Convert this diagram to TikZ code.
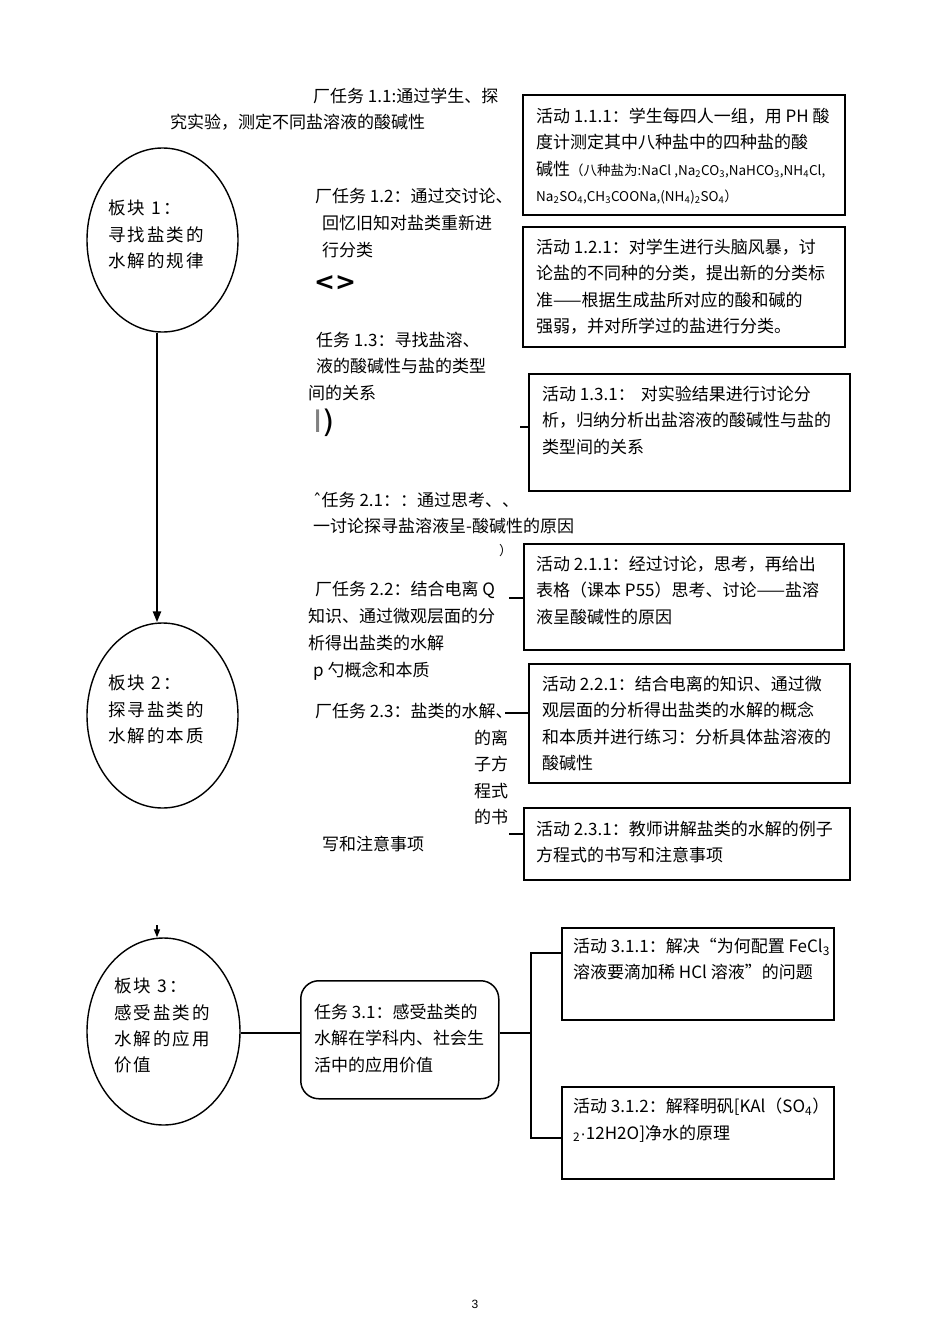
\documentclass[tikz,border=0pt]{standalone}
\usepackage{fontspec}
\setmainfont{Noto Sans CJK SC}
\newfontfamily\cjkwide[LetterSpace=12]{Noto Sans CJK SC}
\newfontfamily\dvsans{DejaVu Sans}
\newfontfamily\libsans{Liberation Sans}
\usetikzlibrary{shapes.geometric,arrows.meta,calc}
\newcommand\chsub[1]{\textsubscript{#1}}
\newcommand\smallf{\fontsize{13.5}{16}\selectfont}
\begin{document}
\begin{tikzpicture}[x=1pt,y=-1pt,
  tx/.style={anchor=north west, inner sep=0pt, align=left, font=\fontsize{17}{26.3}\selectfont},
  btx/.style={anchor=north west, inner sep=0pt, align=left, font=\cjkwide\fontsize{17.5}{26.2}\selectfont},
  blk/.style={draw, ellipse, line width=1.4pt, inner sep=0pt, minimum width=151pt, minimum height=184pt},
  abox/.style={draw, line width=1.6pt, anchor=north west, inner sep=0pt},
  lnk/.style={line width=1.3pt},
  bigarrow/.style={line width=2.4pt, -{Triangle[length=11pt,width=8pt]}},
  smallarrow/.style={line width=1.5pt, -{Triangle[length=8pt,width=6pt]}}]
\useasboundingbox[fill=white] (0,0) rectangle (950,1344);

% ---- blocks (ellipses)
\node[blk] (b1) at (162.5,240) {};
\node[btx] (b1t) at (108,200) {板块 1：\\寻找盐类的\\水解的规律};
\node[blk, minimum height=185pt] (b2) at (162.5,715.5) {};
\node[btx] (b2t) at (108,675) {板块 2：\\探寻盐类的\\水解的本质};
\node[blk, minimum width=153pt, minimum height=187pt] (b3) at (163.5,1031.5) {};
\node[btx] (b3t) at (114,978) {板块 3：\\感受盐类的\\水解的应用\\价值};

\draw[bigarrow] ([xshift=-5.5pt]b1.south) -- ([xshift=-5.5pt]b2.north);
\coordinate (a3) at (157,925);
\draw[smallarrow] (a3) -- ([xshift=-6.5pt]b3.north);

% ---- task texts, section 1
\node[tx] (t11a) at (313,88) {厂任务 1.1:通过学生、探};
\node[tx] (t11b) at (170,114) {究实验，测定不同盐溶液的酸碱性};
\node[tx, font=\fontsize{17}{26.8}\selectfont] (t12) at (315,188) {厂任务 1.2：通过交讨论、\\\hspace{7pt}回忆旧知对盐类重新进\\\hspace{7pt}行分类};
\node[anchor=west, inner sep=0pt, font=\dvsans\bfseries\fontsize{25}{25}\selectfont] (t12s) at (314,283) {<>};
\node[tx] (t13) at (316,332) {任务 1.3：寻找盐溶、\\液的酸碱性与盐的类型\\\hspace{-8pt}间的关系};
\node[anchor=west, inner sep=0pt, font=\dvsans\fontsize{31}{31}\selectfont] (t13s) at (313,423) {{\color{gray}I})};

% ---- task texts, section 2
\node[tx] (t21) at (313,492) {{\dvsans ˆ}任务 2.1：：通过思考、、\\一讨论探寻盐溶液呈-酸碱性的原因};
\node[anchor=west, inner sep=0pt, font=\fontsize{13}{13}\selectfont] (t21p) at (499,551) {）};
\node[tx, font=\fontsize{17}{26.8}\selectfont] (t22) at (308,581) {\hspace{7pt}厂任务 2.2：结合电离 Q\\知识、通过微观层面的分\\析得出盐类的水解\\\hspace{5pt}p 勺概念和本质};
\node[tx] (t23a) at (315,703) {厂任务 2.3：盐类的水解、};
\node[tx] (t23b) at (474,730) {的离\\子方\\程式\\的书};
\node[tx] (t23c) at (322,836) {写和注意事项};

% ---- activity boxes, section 1
\node[abox, minimum width=322pt, minimum height=120pt] (A111) at (522,94) {};
\node[tx] (A111t) at (536,108) {活动 1.1.1：学生每四人一组，用 PH 酸\\度计测定其中八种盐中的四种盐的酸\\碱性{\smallf（八种盐为:NaCl ,Na\chsub{2}CO\chsub{3},NaHCO\chsub{3},NH\chsub{4}Cl,}\\{\smallf Na\chsub{2}SO\chsub{4},CH\chsub{3}COONa,(NH\chsub{4})\chsub{2}SO\chsub{4}）}};
\node[abox, minimum width=322pt, minimum height=120pt] (A121) at (522,226) {};
\node[tx] (A121t) at (536,239) {活动 1.2.1：对学生进行头脑风暴，讨\\论盐的不同种的分类，提出新的分类标\\准——根据生成盐所对应的酸和碱的\\强弱，并对所学过的盐进行分类。};
\node[abox, minimum width=321pt, minimum height=117pt] (A131) at (528,373) {};
\node[tx] (A131t) at (542,386) {活动 1.3.1：\hspace{6pt}对实验结果进行讨论分\\析，归纳分析出盐溶液的酸碱性与盐的\\类型间的关系};
\coordinate (s13) at (520,427);
\draw[lnk] (s13) -- (s13 -| A131.west);

% ---- activity boxes, section 2
\node[abox, minimum width=320pt, minimum height=106pt] (A211) at (523,543) {};
\node[tx] (A211t) at (536,556) {活动 2.1.1：经过讨论，思考，再给出\\表格（课本 P55）思考、讨论——盐溶\\液呈酸碱性的原因};
\coordinate (s21) at (509,598);
\draw[lnk] (s21) -- (s21 -| A211.west);
\node[abox, minimum width=321pt, minimum height=119pt] (A221) at (528,663) {};
\node[tx] (A221t) at (542,676) {活动 2.2.1：结合电离的知识、通过微\\观层面的分析得出盐类的水解的概念\\和本质并进行练习：分析具体盐溶液的\\酸碱性};
\coordinate (s22) at (505,713);
\draw[lnk] (s22) -- (s22 -| A221.west);
\node[abox, minimum width=326pt, minimum height=72pt] (A231) at (523,807) {};
\node[tx] (A231t) at (536,821) {活动 2.3.1：教师讲解盐类的水解的例子\\方程式的书写和注意事项};
\coordinate (s23) at (509,834);
\draw[lnk] (s23) -- (s23 -| A231.west);

% ---- section 3
\node[draw, line width=1.5pt, rounded corners=18pt, anchor=north west, inner sep=0pt, minimum width=198pt, minimum height=118pt] (t31) at (300,980) {};
\node[tx] (t31t) at (314,1004) {任务 3.1：感受盐类的\\水解在学科内、社会生\\活中的应用价值};
\coordinate (jm) at (531,1033);
\coordinate (j1) at (531,953);
\coordinate (j2) at (531,1138);
\draw[lnk] (b3.east |- jm) -- (t31.west |- jm);
\draw[lnk] (t31.east |- jm) -- (jm);
\node[abox, minimum width=272pt, minimum height=92pt] (A311) at (561,927) {};
\node[tx] (A311t) at (573,938) {活动 3.1.1：解决“为何配置 FeCl\chsub{3}\\溶液要滴加稀 HCl 溶液”的问题};
\node[abox, minimum width=272pt, minimum height=92pt] (A312) at (561,1086) {};
\node[tx] (A312t) at (573,1098) {活动 3.1.2：解释明矾[KAl（SO\chsub{4}）\\\chsub{2}{\libsans ·}12H2O]净水的原理};
\draw[lnk] (A311.west |- j1) -- (j1) -- (j2) -- (A312.west |- j2);

% ---- page number
\node[inner sep=0pt, font=\libsans\fontsize{12}{12}\selectfont] (pg) at (475,1304) {3};
\end{tikzpicture}
\end{document}
